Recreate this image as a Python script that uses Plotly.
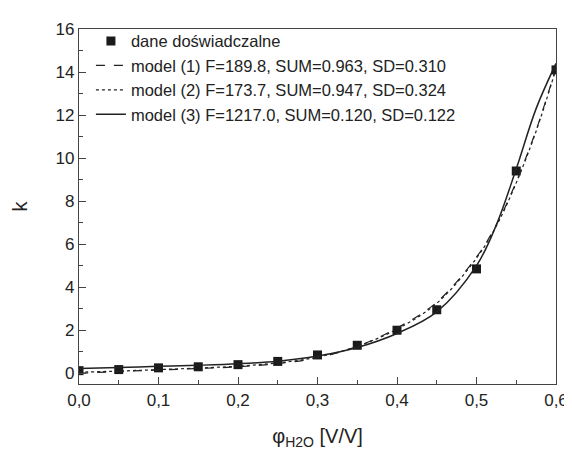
import plotly.graph_objects as go

# experimental data
phi_exp = [0.0, 0.05, 0.1, 0.15, 0.2, 0.25, 0.3, 0.35, 0.4, 0.45, 0.5, 0.55, 0.6]
k_exp = [0.12, 0.17, 0.25, 0.3, 0.4, 0.55, 0.85, 1.3, 2.0, 2.95, 4.85, 9.4, 14.1]

# model curves
phi_model = [0.0, 0.05, 0.1, 0.15, 0.2, 0.25, 0.3, 0.35, 0.4, 0.45, 0.5,
             0.525, 0.55, 0.575, 0.6]
k_model1 = [0.0, 0.08, 0.15, 0.22, 0.3, 0.45, 0.72, 1.25, 2.1, 3.3, 5.4,
            6.9, 8.9, 11.3, 14.2]
k_model2 = [0.05, 0.1, 0.17, 0.24, 0.33, 0.48, 0.75, 1.25, 2.05, 3.25, 5.35,
            6.85, 8.85, 11.25, 14.15]
k_model3 = [0.22, 0.27, 0.32, 0.37, 0.44, 0.56, 0.8, 1.2, 1.85, 2.85, 5.0,
            6.9, 9.5, 12.3, 14.4]

names = ["dane doświadczalne",
         "model (1) F=189.8, SUM=0.963, SD=0.310",
         "model (2) F=173.7, SUM=0.947, SD=0.324",
         "model (3) F=1217.0, SUM=0.120, SD=0.122"]

fig = go.Figure()
fig.add_trace(go.Scatter(x=phi_exp, y=k_exp, mode="markers", name=names[0],
                         marker=dict(symbol="square", size=9, color="#1a1a1a")))
fig.add_trace(go.Scatter(x=phi_model, y=k_model1, mode="lines", name=names[1],
                         line=dict(color="#222", width=1.2, dash="dash", shape="spline")))
fig.add_trace(go.Scatter(x=phi_model, y=k_model2, mode="lines", name=names[2],
                         line=dict(color="#222", width=1.2, dash="dot", shape="spline")))
fig.add_trace(go.Scatter(x=phi_model, y=k_model3, mode="lines", name=names[3],
                         line=dict(color="#222", width=1.5, shape="spline")))

axis_common = dict(showgrid=False, zeroline=False, showline=True, linecolor="#444",
                   linewidth=1.3, mirror=True, ticks="inside", ticklen=7,
                   tickcolor="#444", tickwidth=1.3,
                   tickfont=dict(size=17, color="#222"))

fig.update_xaxes(range=[0, 0.6], tick0=0, dtick=0.1, tickformat=".1f",
                 minor=dict(ticks="inside", ticklen=4, dtick=0.05, tickcolor="#444"),
                 title=dict(text="φ<sub>H2O</sub> [V/V]", font=dict(size=20, color="#222"),
                            standoff=20),
                 **axis_common)
fig.update_yaxes(range=[-0.5, 16], tick0=0, dtick=2,
                 minor=dict(ticks="inside", ticklen=4, dtick=1, tickcolor="#444"),
                 title=dict(text="k", font=dict(size=20, color="#222"), standoff=22),
                 **axis_common)

fig.update_layout(
    width=572, height=450,
    margin=dict(l=70, r=15, t=21, b=74),
    plot_bgcolor="white", paper_bgcolor="white",
    font=dict(family="Liberation Sans, Arial, sans-serif", color="#222"),
    separators=", ",
    legend=dict(x=0.025, y=1.015, xanchor="left", yanchor="top",
                bgcolor="rgba(0,0,0,0)", font=dict(size=16.5),
                itemwidth=30, tracegroupgap=0),
)

fig.write_html("out.html")
